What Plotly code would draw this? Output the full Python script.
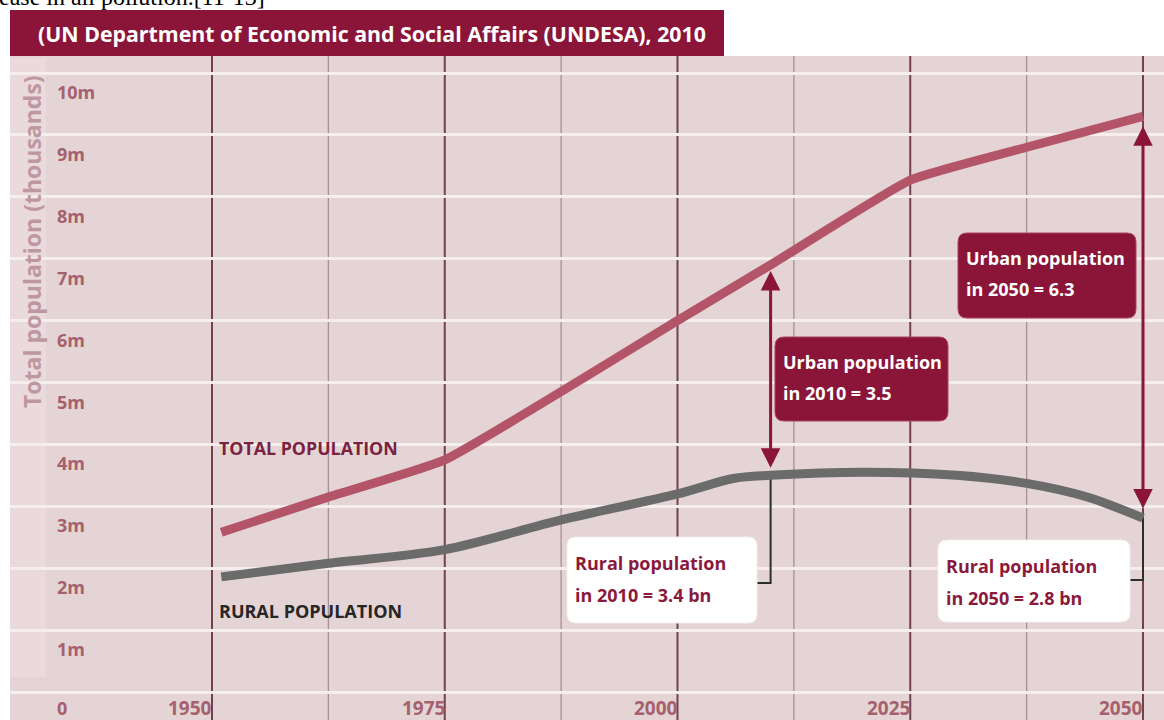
import plotly.graph_objects as go

# ---------------- data ----------------
total_years = [1951, 1962.5, 1975, 2000, 2010, 2025, 2037.5, 2050]
total_values = [2.58, 3.15, 3.75, 6.0, 6.9, 8.27, 8.8, 9.3]

rural_years = [1951, 1962.5, 1975, 1987.5, 2000, 2006, 2010, 2020, 2030, 2037.5, 2044, 2050]
rural_values = [1.86, 2.08, 2.3, 2.78, 3.2, 3.45, 3.5, 3.55, 3.5, 3.37, 3.15, 2.81]

y_tick_values = [0, 1, 2, 3, 4, 5, 6, 7, 8, 9, 10]
y_tick_labels = ["0", "1m", "2m", "3m", "4m", "5m", "6m", "7m", "8m", "9m", "10m"]

x_major_years = [1950, 1975, 2000, 2025, 2050]
x_tick_labels = ["1950", "1975", "2000", "2025", "2050"]
x_minor_years = [1962.5, 1987.5, 2012.5, 2037.5]

callout_years = [2010, 2050]
urban_texts = [["Urban population", "in 2010 = 3.5"], ["Urban population", "in 2050 = 6.3"]]
rural_texts = [["Rural population", "in 2010 = 3.4 bn"], ["Rural population", "in 2050 = 2.8 bn"]]

title_text = "(UN Department of Economic and Social Affairs (UNDESA), 2010"
top_text = "ease in all pollution.[11-13]"
y_title = "Total population (thousands)"

# ---------------- layout geometry ----------------
W, H = 1164, 720
ML, MR, MT, MB = 10, 0, 56, 0
PX_PER_YEAR = 9.31
PX_PER_UNIT = 61.9
X1950_PX = 212
Y0_PX = 692

x_range = [1950 - (X1950_PX - ML) / PX_PER_YEAR, 1950 + (W - MR - X1950_PX) / PX_PER_YEAR]
y_range = [-(H - MB - Y0_PX) / PX_PER_UNIT, (Y0_PX - MT) / PX_PER_UNIT]


def X(px):
    return 1950 + (px - X1950_PX) / PX_PER_YEAR


def Y(py):
    return (Y0_PX - py) / PX_PER_UNIT


def PX(px):
    return (px - ML) / (W - ML - MR)


def PY(py):
    return (H - MB - py) / (H - MT - MB)


def rrect(x0, y0, x1, y1, r=9):
    pts = [
        ("M", [(x0 + r, y0)]),
        ("L", [(x1 - r, y0)]),
        ("Q", [(x1, y0), (x1, y0 + r)]),
        ("L", [(x1, y1 - r)]),
        ("Q", [(x1, y1), (x1 - r, y1)]),
        ("L", [(x0 + r, y1)]),
        ("Q", [(x0, y1), (x0, y1 - r)]),
        ("L", [(x0, y0 + r)]),
        ("Q", [(x0, y0), (x0 + r, y0)]),
    ]
    s = ""
    for cmd, ps in pts:
        s += cmd + " " + " ".join(f"{X(a):.4f},{Y(b):.4f}" for a, b in ps) + " "
    return s + "Z"


CRIMSON = "#8a1538"
TOTAL_COL = "#b35468"
RURAL_COL = "#6b6b6b"
TICK_COL = "#a5626e"
BG = "#e4d4d5"
FONT = "Open Sans"

fig = go.Figure()

fig.add_trace(go.Scatter(
    x=total_years, y=total_values, mode="lines",
    line=dict(color=TOTAL_COL, width=9, shape="spline", smoothing=0.4),
    hoverinfo="skip", showlegend=False,
))
fig.add_trace(go.Scatter(
    x=rural_years, y=rural_values, mode="lines",
    line=dict(color=RURAL_COL, width=9, shape="spline", smoothing=0.9),
    hoverinfo="skip", showlegend=False,
))

shapes = []
# lighter column for the axis title
shapes.append(dict(type="rect", xref="paper", yref="paper", x0=PX(10), x1=PX(46),
                   y0=PY(677), y1=PY(58), fillcolor="#ebdadd", line=dict(width=0),
                   layer="between"))
# vertical grid lines
for yr in x_minor_years:
    shapes.append(dict(type="line", xref="x", yref="paper", x0=yr, x1=yr, y0=0, y1=1,
                       line=dict(color="#a88e95", width=1.3), layer="between"))
for yr in x_major_years:
    shapes.append(dict(type="line", xref="x", yref="paper", x0=yr, x1=yr, y0=0, y1=1,
                       line=dict(color="#74404e", width=2), layer="between"))

# connectors from rural boxes to the rural line
rural_at = dict(zip(rural_years, rural_values))
total_at = dict(zip(total_years, total_values))
conn = [(757, 583), (1130, 580)]
for yr, (bx, by) in zip(callout_years, conn):
    shapes.append(dict(type="path", xref="x", yref="y",
                       path=f"M {X(bx)},{Y(by)} L {yr},{Y(by)} L {yr},{rural_at[yr]}",
                       line=dict(color="#2e2e2e", width=2), layer="between"))

# callout boxes
urban_boxes = [(775, 337, 948, 421), (958, 233, 1136, 318)]
rural_boxes = [(567, 537, 757, 623), (938, 540, 1130, 622)]
for b in urban_boxes:
    shapes.append(dict(type="path", xref="x", yref="y", path=rrect(*b),
                       fillcolor=CRIMSON, line=dict(color="#a8445f", width=1), layer="above"))
for b in rural_boxes:
    shapes.append(dict(type="path", xref="x", yref="y", path=rrect(*b),
                       fillcolor="#ffffff", line=dict(color="#f4eeee", width=1), layer="above"))

# title band
shapes.append(dict(type="rect", xref="paper", yref="paper", x0=PX(10), x1=PX(724),
                   y0=PY(56), y1=PY(10), fillcolor=CRIMSON, line=dict(width=0)))

annotations = []
# y tick labels (sit just below their grid line)
for v, t in zip(y_tick_values, y_tick_labels):
    annotations.append(dict(xref="paper", yref="y", x=PX(55), y=v,
                            yshift=-16 if v == 0 else -19,
                            text=t, showarrow=False, xanchor="left", yanchor="middle",
                            font=dict(family=FONT, size=18, color=TICK_COL, weight="bold")))
# x tick labels
for yr, t in zip(x_major_years, x_tick_labels):
    annotations.append(dict(xref="x", yref="y", x=yr, y=0, yshift=-16, xshift=2,
                            text=t, showarrow=False, xanchor="right", yanchor="middle",
                            font=dict(family=FONT, size=19, color=TICK_COL, weight="bold")))

# urban arrows
for yr, so_top, so_bot in zip(callout_years, [6, 10], [6, 8]):
    annotations.append(dict(xref="x", yref="y", axref="x", ayref="y",
                            x=yr, y=total_at[yr], ax=yr, ay=rural_at[yr], text="",
                            showarrow=True, arrowside="end+start", arrowhead=2,
                            startarrowhead=2, arrowsize=1.3, startarrowsize=1.3,
                            arrowwidth=3, arrowcolor=CRIMSON,
                            standoff=so_top, startstandoff=so_bot))

# callout texts
for b, lines in zip(urban_boxes, urban_texts):
    for i, ln in enumerate(lines):
        annotations.append(dict(xref="x", yref="y", x=X(b[0] + 6), y=Y(b[1] + 25 + 31 * i),
                                text=ln, showarrow=False, xanchor="left", yanchor="middle",
                                font=dict(family=FONT, size=18, color="#ffffff", weight="bold")))
for b, lines in zip(rural_boxes, rural_texts):
    for i, ln in enumerate(lines):
        annotations.append(dict(xref="x", yref="y", x=X(b[0] + 6), y=Y(b[1] + 26 + 32 * i),
                                text=ln, showarrow=False, xanchor="left", yanchor="middle",
                                font=dict(family=FONT, size=18, color="#8a1a3c", weight="bold")))

# series labels
annotations.append(dict(xref="x", yref="y", x=X(217), y=Y(448), text="TOTAL POPULATION",
                        showarrow=False, xanchor="left", yanchor="middle",
                        font=dict(family=FONT, size=17.8, color="#7b2241", weight="bold")))
annotations.append(dict(xref="x", yref="y", x=X(217), y=Y(611), text="RURAL POPULATION",
                        showarrow=False, xanchor="left", yanchor="middle",
                        font=dict(family=FONT, size=18, color="#262626", weight="bold")))

# axis title
annotations.append(dict(xref="paper", yref="paper", x=PX(32), y=PY(242), text=y_title,
                        textangle=-90, showarrow=False, xanchor="center", yanchor="middle",
                        font=dict(family=FONT, size=23, color="#bd98a1", weight="bold")))
# title band text
annotations.append(dict(xref="paper", yref="paper", x=PX(36), y=PY(33), text=title_text,
                        showarrow=False, xanchor="left", yanchor="middle",
                        font=dict(family=FONT, size=21.3, color="#ffffff", weight="bold")))
# cropped page text at the very top
annotations.append(dict(xref="paper", yref="paper", x=PX(-3), y=PY(12), text=top_text,
                        showarrow=False, xanchor="left", yanchor="bottom",
                        font=dict(family="Liberation Serif", size=24, color="#000000")))

fig.update_layout(
    width=W, height=H,
    margin=dict(l=ML, r=MR, t=MT, b=MB, autoexpand=False),
    paper_bgcolor="#ffffff", plot_bgcolor=BG,
    xaxis=dict(range=x_range, showgrid=False, zeroline=False, showticklabels=False,
               ticks="", fixedrange=True),
    yaxis=dict(range=y_range, tickvals=y_tick_values, showgrid=True, gridcolor="#f6eded",
               gridwidth=3, zeroline=False, showticklabels=False, ticks="", fixedrange=True),
    shapes=shapes, annotations=annotations, showlegend=False,
)

fig.write_html(
    "out.html",
    config={"displayModeBar": False},
    post_script="document.body.style.margin='0';document.body.style.overflow='hidden';",
)
